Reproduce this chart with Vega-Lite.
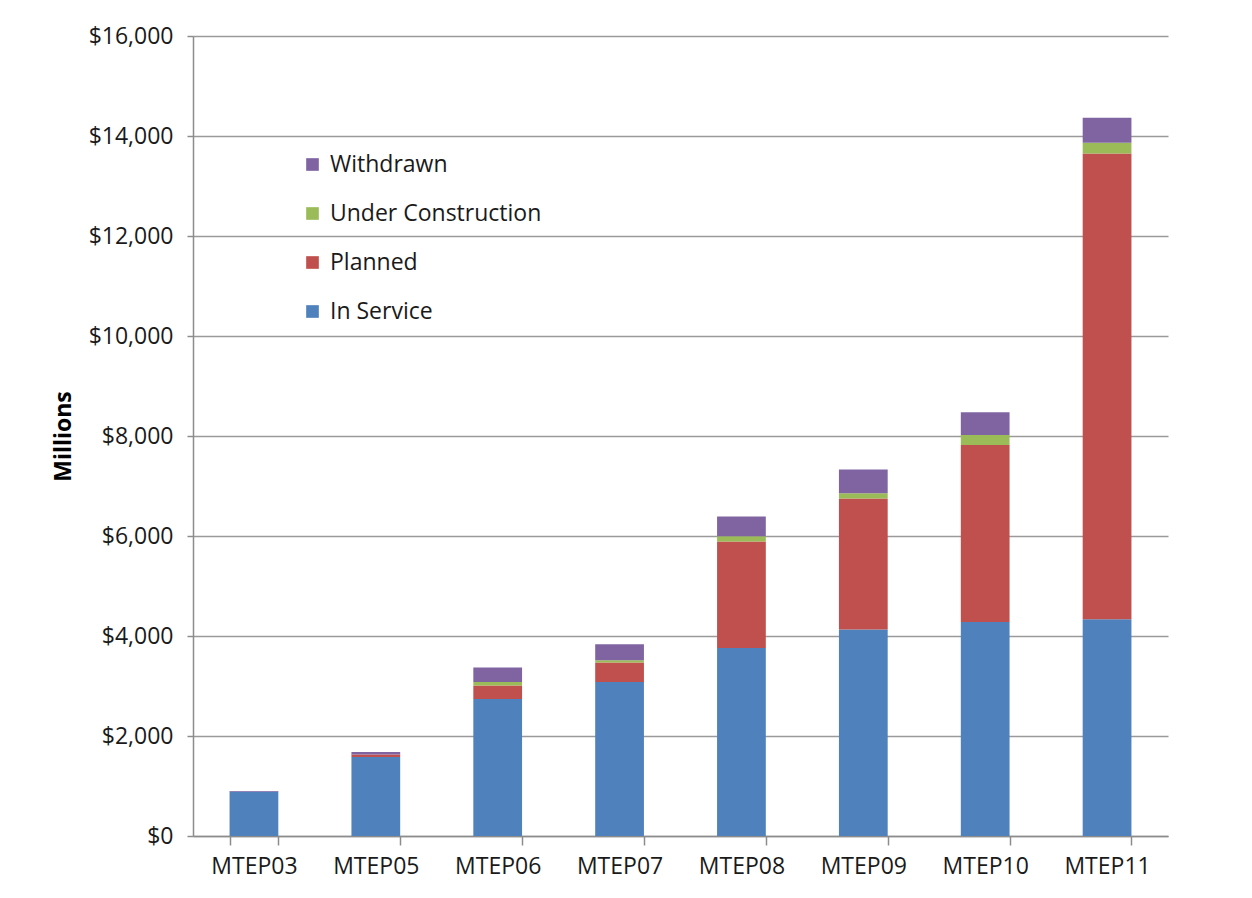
{
  "$schema": "https://vega.github.io/schema/vega-lite/v6.json",
  "width": 975,
  "height": 800,
  "autosize": "none",
  "padding": {"left": 193, "top": 36, "right": 84, "bottom": 62},
  "background": "white",
  "config": {
    "view": {"stroke": null},
    "font": "Open Sans"
  },
  "data": {
    "values": [
      {"plan": "MTEP03", "status": "In Service", "value": 885},
      {"plan": "MTEP03", "status": "Planned", "value": 0},
      {"plan": "MTEP03", "status": "Under Construction", "value": 0},
      {"plan": "MTEP03", "status": "Withdrawn", "value": 15},
      {"plan": "MTEP05", "status": "In Service", "value": 1580},
      {"plan": "MTEP05", "status": "Planned", "value": 50},
      {"plan": "MTEP05", "status": "Under Construction", "value": 0},
      {"plan": "MTEP05", "status": "Withdrawn", "value": 50},
      {"plan": "MTEP06", "status": "In Service", "value": 2740},
      {"plan": "MTEP06", "status": "Planned", "value": 270},
      {"plan": "MTEP06", "status": "Under Construction", "value": 70},
      {"plan": "MTEP06", "status": "Withdrawn", "value": 290},
      {"plan": "MTEP07", "status": "In Service", "value": 3080},
      {"plan": "MTEP07", "status": "Planned", "value": 390},
      {"plan": "MTEP07", "status": "Under Construction", "value": 45},
      {"plan": "MTEP07", "status": "Withdrawn", "value": 320},
      {"plan": "MTEP08", "status": "In Service", "value": 3760},
      {"plan": "MTEP08", "status": "Planned", "value": 2130},
      {"plan": "MTEP08", "status": "Under Construction", "value": 105},
      {"plan": "MTEP08", "status": "Withdrawn", "value": 395},
      {"plan": "MTEP09", "status": "In Service", "value": 4130},
      {"plan": "MTEP09", "status": "Planned", "value": 2620},
      {"plan": "MTEP09", "status": "Under Construction", "value": 105},
      {"plan": "MTEP09", "status": "Withdrawn", "value": 475},
      {"plan": "MTEP10", "status": "In Service", "value": 4280},
      {"plan": "MTEP10", "status": "Planned", "value": 3540},
      {"plan": "MTEP10", "status": "Under Construction", "value": 200},
      {"plan": "MTEP10", "status": "Withdrawn", "value": 455},
      {"plan": "MTEP11", "status": "In Service", "value": 4335},
      {"plan": "MTEP11", "status": "Planned", "value": 9315},
      {"plan": "MTEP11", "status": "Under Construction", "value": 215},
      {"plan": "MTEP11", "status": "Withdrawn", "value": 500}
    ]
  },
  "mark": {"type": "bar"},
  "encoding": {
    "x": {
      "field": "plan",
      "type": "nominal",
      "sort": null,
      "scale": {"paddingInner": 0.6, "paddingOuter": 0.3},
      "axis": {
        "title": null,
        "labelAngle": 0,
        "labelFontSize": 23,
        "labelColor": "#1a1a1a",
        "labelPadding": 10,
        "tickBand": "extent",
        "tickSize": 9,
        "tickColor": "#8c8c8c",
        "tickWidth": 1.5,
        "domainColor": "#8c8c8c",
        "domainWidth": 1.5,
        "grid": false
      }
    },
    "y": {
      "field": "value",
      "type": "quantitative",
      "stack": "zero",
      "scale": {"domain": [0, 16000], "nice": false},
      "axis": {
        "title": "Millions",
        "titleFontSize": 23,
        "titleFontWeight": "bold",
        "titleColor": "#000000",
        "titlePadding": 13,
        "format": "$,d",
        "values": [0, 2000, 4000, 6000, 8000, 10000, 12000, 14000, 16000],
        "labelFontSize": 23,
        "labelColor": "#1a1a1a",
        "labelPadding": 14,
        "tickSize": 6,
        "tickColor": "#8c8c8c",
        "tickWidth": 1.5,
        "domainColor": "#8c8c8c",
        "domainWidth": 1.5,
        "grid": true,
        "gridColor": "#9a9a9a",
        "gridWidth": 1.5
      }
    },
    "color": {
      "field": "status",
      "type": "nominal",
      "sort": ["In Service", "Planned", "Under Construction", "Withdrawn"],
      "scale": {
        "domain": ["In Service", "Planned", "Under Construction", "Withdrawn"],
        "range": ["#4F81BD", "#C0504D", "#9BBB59", "#8064A2"]
      },
      "legend": {
        "title": null,
        "orient": "none",
        "legendX": 108,
        "legendY": 117,
        "values": ["Withdrawn", "Under Construction", "Planned", "In Service"],
        "symbolType": "square",
        "symbolSize": 160,
        "symbolStrokeWidth": 0,
        "labelFontSize": 23,
        "labelLimit": 400,
        "labelColor": "#1a1a1a",
        "labelOffset": 6,
        "rowPadding": 25,
        "padding": 0
      }
    },
    "order": {"field": "status", "sort": "ascending"}
  }
}
